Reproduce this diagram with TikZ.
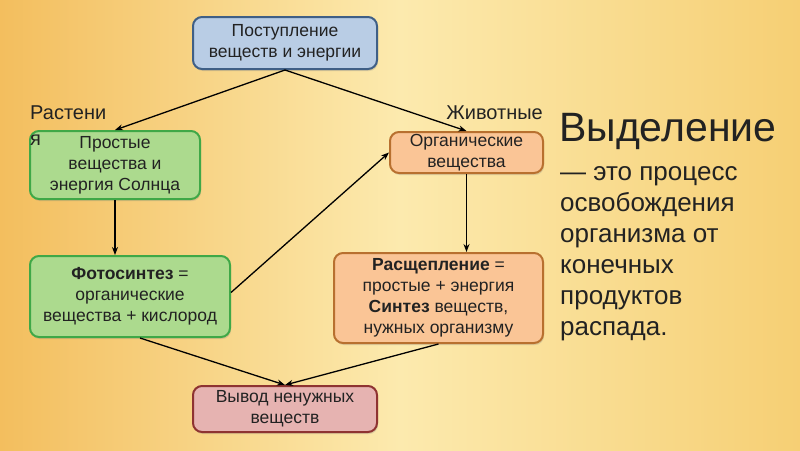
\documentclass[tikz,border=0pt]{standalone}
\usepackage{fontspec}
\setmainfont{Liberation Sans}
\usetikzlibrary{arrows.meta,shadows,calc}
\definecolor{bgL}{HTML}{F3BE5E}
\definecolor{bgM}{HTML}{FCEAAE}
\definecolor{bgR}{HTML}{F6CF74}
\definecolor{blueF}{HTML}{B9CDE5}
\definecolor{blueD}{HTML}{3F5F86}
\definecolor{greenF}{HTML}{ACDA8E}
\definecolor{greenD}{HTML}{3FA847}
\definecolor{orangeF}{HTML}{FAC596}
\definecolor{orangeD}{HTML}{B8702F}
\definecolor{redF}{HTML}{E6B3B1}
\definecolor{redD}{HTML}{8E3331}
\definecolor{txt}{HTML}{222222}
\tikzset{
  box/.style={draw, line width=2pt, rounded corners=9pt, align=center,
    inner sep=0pt, text=txt, font=\fontsize{17.5}{21}\selectfont,
    drop shadow={shadow xshift=1pt, shadow yshift=-2pt, opacity=0.25}},
  bluebox/.style={box, fill=blueF, draw=blueD},
  greenbox/.style={box, fill=greenF, draw=greenD},
  orangebox/.style={box, fill=orangeF, draw=orangeD},
  redbox/.style={box, fill=redF, draw=redD},
  conn/.style={-{Stealth[length=8pt,width=6pt]}, line width=1.3pt, black},
  lbl/.style={font=\fontsize{20}{26}\selectfont, inner sep=0pt, text=txt}
}
\begin{document}
\begin{tikzpicture}[x=1pt,y=-1pt]
\useasboundingbox (0,0) rectangle (800,450);
\shade[left color=bgL, right color=bgR, middle color=bgM] (0,0) rectangle (800,450);

\node[bluebox, minimum width=184pt, minimum height=52pt] (top) at (285,43) {Поступление\\веществ и энергии};
\node[greenbox, minimum width=170pt, minimum height=68pt] (g1) at (115,165) {Простые\\вещества и\\энергия Солнца};
\node[orangebox, minimum width=153pt, minimum height=41pt] (o1) at (466.5,152.5) {Органические\\вещества};
\node[greenbox, minimum width=200pt, minimum height=81pt] (g2) at (130,296.5) {\textbf{Фотосинтез} =\\органические\\вещества + кислород};
\node[orangebox, minimum width=209pt, minimum height=90pt] (o2) at (438.5,298) {\textbf{Расщепление} =\\простые + энергия\\\textbf{Синтез} веществ,\\нужных организму};
\node[redbox, minimum width=184pt, minimum height=46pt] (red) at (285,409) {Вывод ненужных\\веществ};

\node[lbl, anchor=north west, align=left] (pl) at (30,106) {Растени\\я};
\node[lbl, anchor=north east] (an) at (543,106) {Животные};

\draw[conn] (top.south) -- (g1.north);
\draw[conn] (top.south) -- (o1.north);
\draw[conn] (g1.south) -- (g1.south |- g2.north);
\draw[conn] ($(g2.east)+(0,-4)$) -- (o1.west);
\draw[conn] (o1.south) -- (o1.south |- o2.north);
\draw[conn] ($(g2.south)+(10,0)$) -- (red.north);
\draw[conn] (o2.south) -- (red.north);

\node[anchor=north west, inner sep=0pt, text=txt, font=\fontsize{41}{44}\selectfont] (title) at (559,113) {Выделение};
\node[anchor=north west, inner sep=0pt, align=left, text=txt, font=\fontsize{26}{31}\selectfont] (body) at (560,166) {— это процесс\\освобождения\\организма от\\конечных\\продуктов\\распада.};
\end{tikzpicture}
\end{document}
